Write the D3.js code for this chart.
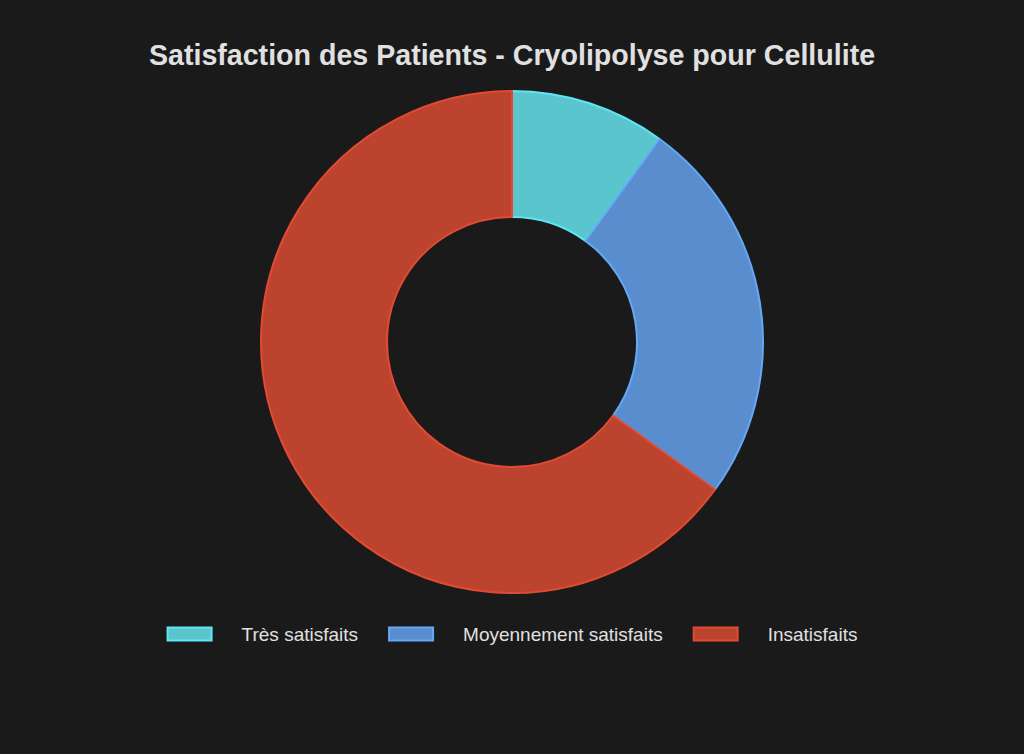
<!DOCTYPE html>
<html>
<head>
<meta charset="utf-8">
<script src="https://cdn.jsdelivr.net/npm/d3@7"></script>
<style>
  html, body { margin: 0; padding: 0; background: #1a1a1a; }
  svg { display: block; }
</style>
</head>
<body>
<div id="chart"></div>
<script>
const labels = ['Très satisfaits', 'Moyennement satisfaits', 'Insatisfaits'];
const values = [10, 25, 65];
const fills = ['#5bc5cd', '#598dcd', '#bc432e'];
const borders = ['#5ee6f5', '#63a9f5', '#e24a33'];
const title = 'Satisfaction des Patients - Cryolipolyse pour Cellulite';

const width = 1024, height = 754;
const cx = 512, cy = 342;
const outerR = 251, innerR = 125;

const svg = d3.select('#chart').append('svg')
    .attr('width', width)
    .attr('height', height);

svg.append('rect').attr('width', width).attr('height', height).attr('fill', '#1a1a1a');

svg.append('text')
   .attr('x', width / 2)
   .attr('y', 65)
   .attr('text-anchor', 'middle')
   .attr('fill', '#e0e0e0')
   .style('font-family', '"Liberation Sans", Arial, sans-serif')
   .style('font-weight', 'bold')
   .style('font-size', '28.6px')
   .text(title);

const pie = d3.pie().sort(null).value(d => d);
const arc = d3.arc().innerRadius(innerR).outerRadius(outerR);

const g = svg.append('g').attr('transform', `translate(${cx},${cy})`);
g.selectAll('path')
 .data(pie(values))
 .enter()
 .append('path')
 .attr('d', arc)
 .attr('fill', (d, i) => fills[i])
 .attr('stroke', (d, i) => borders[i])
 .attr('stroke-width', 2)
 .attr('stroke-linejoin', 'round');

// legend, centered
const legend = svg.append('g');
const boxW = 44, boxH = 13, gap = 30, itemGap = 30;
const items = legend.selectAll('g')
  .data(labels)
  .enter()
  .append('g');

items.append('rect')
  .attr('x', 1)
  .attr('width', boxW).attr('height', boxH)
  .attr('y', -boxH / 2)
  .attr('fill', (d, i) => fills[i])
  .attr('stroke', (d, i) => borders[i])
  .attr('stroke-width', 2);

items.append('text')
  .attr('x', boxW + gap + 1)
  .attr('y', 7)
  .attr('fill', '#e0e0e0')
  .style('font-family', '"Liberation Sans", Arial, sans-serif')
  .style('font-size', '19px')
  .text(d => d);

let x = 0;
const widths = [];
items.each(function() {
  const w = boxW + gap + 1 + d3.select(this).select('text').node().getComputedTextLength();
  widths.push(w);
});
const total = d3.sum(widths) + itemGap * (widths.length - 1);
x = (width - total) / 2;
items.attr('transform', (d, i) => {
  const t = `translate(${x},634)`;
  x += widths[i] + itemGap;
  return t;
});
</script>
</body>
</html>
